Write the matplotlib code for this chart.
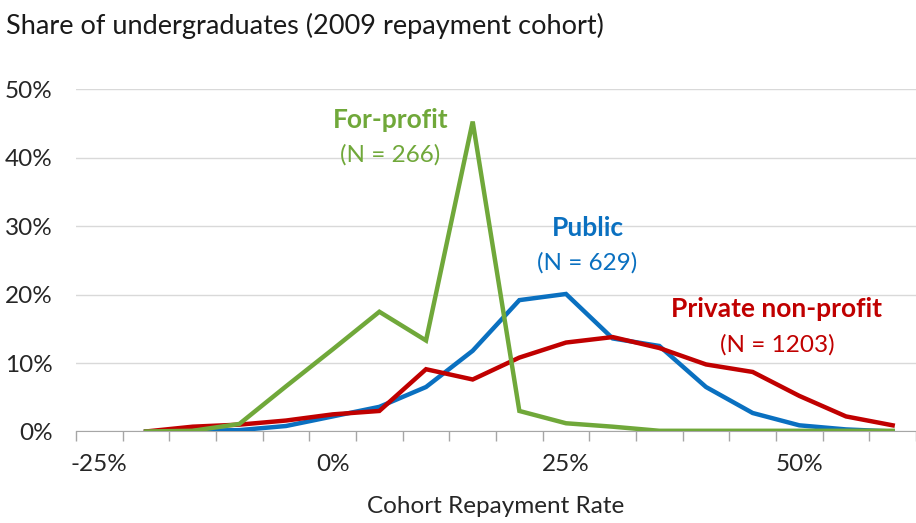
import numpy as np
import matplotlib
matplotlib.use("Agg")
import matplotlib.pyplot as plt
from matplotlib.ticker import FixedLocator, PercentFormatter

plt.rcParams['font.family'] = ['Lato', 'DejaVu Sans']
plt.rcParams['axes.unicode_minus'] = False

# repayment rate bins (category axis, 5% steps); -25% bin is empty
bins = [-20, -15, -10, -5, 0, 5, 10, 15, 20, 25, 30, 35, 40, 45, 50, 55, 60]
public = [0.0, 0.1, 0.2, 0.8, 2.2, 3.6, 6.5, 11.8, 19.2, 20.1, 13.6, 12.5, 6.5, 2.7, 0.9, 0.3, 0.0]
private = [0.0, 0.7, 1.0, 1.6, 2.5, 3.0, 9.1, 7.6, 10.8, 13.0, 13.8, 12.2, 9.8, 8.7, 5.2, 2.2, 0.9]
forprofit = [0.0, 0.1, 1.1, 6.6, 12.0, 17.5, 13.3, 45.3, 3.0, 1.2, 0.7, 0.1, 0.1, 0.1, 0.1, 0.1, 0.1]

green = '#70A83A'
blue = '#0A70C0'
red = '#C00000'
txt = '#262626'

fig = plt.figure(figsize=(9.16, 5.23), dpi=100)
ax = fig.add_axes([0.083, 0.175, 0.917, 0.654])

ax.plot(bins, public, color=blue, lw=3.2, solid_joinstyle='miter', zorder=3)
ax.plot(bins, private, color=red, lw=3.2, solid_joinstyle='miter', zorder=4)
ax.plot(bins, forprofit, color=green, lw=3.2, solid_joinstyle='miter', zorder=5)

ax.set_xlim(-27.5, 62.5)
ax.set_ylim(0, 50)

# category boundaries as tick marks, labels every 25%
ax.xaxis.set_major_locator(FixedLocator([-25, 0, 25, 50]))
ax.xaxis.set_major_formatter(PercentFormatter(decimals=0))
ax.xaxis.set_minor_locator(FixedLocator(np.arange(-27.5, 63, 5)))
ax.tick_params(axis='x', which='major', length=0, pad=16, labelsize=17.5, labelcolor=txt)
ax.tick_params(axis='x', which='minor', length=7, width=1, color='#A6A6A6', direction='out')

ax.set_yticks(np.arange(0, 51, 10))
ax.yaxis.set_major_formatter(PercentFormatter(decimals=0))
ax.tick_params(axis='y', length=0, pad=17, labelsize=17.5, labelcolor=txt)
ax.grid(axis='y', color='#D9D9D9', lw=1)
ax.set_axisbelow(True)

for s in ['top', 'right', 'left']:
    ax.spines[s].set_visible(False)
ax.spines['bottom'].set_color('#A6A6A6')
ax.spines['bottom'].set_zorder(2)

ax.set_xlabel('Cohort Repayment Rate', fontsize=17.5, color=txt, labelpad=15)
fig.text(0.007, 0.950, 'Share of undergraduates (2009 repayment cohort)', fontsize=19.5,
         color='#1a1a1a', va='center', ha='left')

# series labels
ax.text(6.2, 45.5, 'For-profit', color=green, fontsize=19, fontweight='bold', ha='center', va='center')
ax.text(6.2, 40.4, '(N = 266)', color=green, fontsize=17.5, ha='center', va='center')
ax.text(27.3, 29.7, 'Public', color=blue, fontsize=19, fontweight='bold', ha='center', va='center')
ax.text(27.3, 24.6, '(N = 629)', color=blue, fontsize=17.5, ha='center', va='center')
ax.text(47.6, 17.9, 'Private non-profit', color=red, fontsize=19, fontweight='bold', ha='center', va='center')
ax.text(47.6, 12.6, '(N = 1203)', color=red, fontsize=17.5, ha='center', va='center')

fig.savefig('out.png', dpi=100)
